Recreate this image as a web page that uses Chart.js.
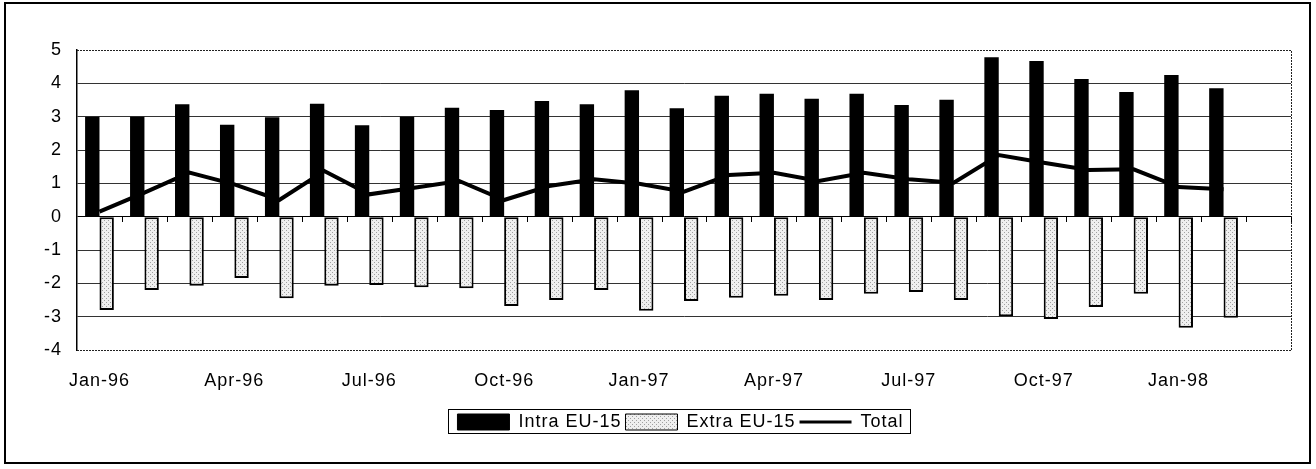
<!DOCTYPE html>
<html><head><meta charset="utf-8">
<script src="https://cdn.jsdelivr.net/npm/chart.js@4/dist/chart.umd.min.js"></script>
<style>html,body{margin:0;padding:0;background:#fff}#wrap{width:1316px;height:469px;position:relative}</style>
</head><body><div id="wrap"><canvas id="c"></canvas></div>
<script>
const months = ['Jan-96','Feb-96','Mar-96','Apr-96','May-96','Jun-96','Jul-96','Aug-96','Sep-96','Oct-96','Nov-96','Dec-96',
  'Jan-97','Feb-97','Mar-97','Apr-97','May-97','Jun-97','Jul-97','Aug-97','Sep-97','Oct-97','Nov-97','Dec-97',
  'Jan-98','Feb-98','Mar-98'];
const intraEU15 = [3.0,3.0,3.37,2.76,2.98,3.39,2.74,3.0,3.27,3.2,3.47,3.37,3.79,3.25,3.63,3.69,3.54,3.69,3.35,3.51,4.78,4.67,4.13,3.74,4.25,3.85,null];
const extraEU15 = [-2.8,-2.2,-2.07,-1.84,-2.45,-2.07,-2.05,-2.12,-2.15,-2.68,-2.5,-2.2,-2.82,-2.53,-2.43,-2.37,-2.5,-2.31,-2.26,-2.5,-2.99,-3.07,-2.71,-2.31,-3.33,-3.03,null];
const total = [0.15,0.72,1.32,0.97,0.5,1.37,0.67,0.87,1.07,0.5,0.92,1.12,0.99,0.75,1.25,1.32,1.07,1.32,1.12,1.02,1.85,1.62,1.4,1.42,0.89,0.82,null];
const yMin = -4, yMax = 5, yStep = 1;
const labelEvery = 3;

function makePattern(){
  const c = document.createElement('canvas'); c.width = 4; c.height = 4;
  const g = c.getContext('2d');
  g.fillStyle = '#efefef'; g.fillRect(0,0,4,4);
  g.fillStyle = '#a0a0a0'; g.fillRect(0,0,1,1); g.fillRect(2,2,1,1);
  return g.createPattern(c, 'repeat');
}
const dotted = makePattern();
const FONT = 'Liberation Sans, Arial, sans-serif';
const LEGEND_SHIFT = 35;

const deco = {
  id: 'deco',
  beforeLayout(chart){ chart.ctx.letterSpacing = '1px'; },
  afterLayout(chart){ const lg = chart.legend; if (lg) { lg.left += LEGEND_SHIFT; lg.right += LEGEND_SHIFT; } },
  beforeDraw(chart){ chart.ctx.letterSpacing = '1px'; },
  afterDatasetsDraw(chart){
    const {ctx, chartArea: a, scales: {x, y}} = chart;
    ctx.save();
    ctx.strokeStyle = '#222'; ctx.lineWidth = 1; ctx.setLineDash([2,1]);
    ctx.beginPath();
    ctx.moveTo(a.left, Math.round(y.getPixelForValue(yMax))+0.5);
    ctx.lineTo(a.right+0.5, Math.round(y.getPixelForValue(yMax))+0.5);
    ctx.lineTo(a.right+0.5, Math.round(y.getPixelForValue(yMin))+0.5);
    ctx.lineTo(a.left, Math.round(y.getPixelForValue(yMin))+0.5);
    ctx.stroke();
    ctx.setLineDash([]);
    const y0 = Math.round(y.getPixelForValue(0));
    const n = months.length;
    ctx.strokeStyle = '#000'; ctx.lineWidth = 1;
    ctx.beginPath();
    for (let i = 1; i <= n; i++) {
      const xp = Math.round(x.left + i * (x.right - x.left) / n) + 0.5;
      ctx.moveTo(xp, y0); ctx.lineTo(xp, y0 + 5);
    }
    ctx.stroke();
    ctx.restore();
  },
  afterDraw(chart){
    const ctx = chart.ctx;
    ctx.save();
    const hb = chart.legend.legendHitBoxes;
    if (hb && hb.length) {
      let l = Infinity, r = -Infinity, t = Infinity, b = -Infinity;
      hb.forEach(h => { l = Math.min(l, h.left); r = Math.max(r, h.left + h.width); t = Math.min(t, h.top); b = Math.max(b, h.top + h.height); });
      ctx.strokeStyle = '#000'; ctx.lineWidth = 1;
      ctx.strokeRect(Math.round(l) - 8.5, Math.round(t) - 3.5, Math.round(r - l) + 16, Math.round(b - t) + 6);
    }
    ctx.strokeStyle = '#000'; ctx.lineWidth = 2;
    ctx.strokeRect(5, 3, 1305, 460);
    ctx.restore();
  }
};

new Chart(document.getElementById('c'), {
  data: {
    labels: months,
    datasets: [
      { type: 'line', label: 'Total', data: total, borderColor: '#000', backgroundColor: '#000', borderWidth: 4,
        pointRadius: 0, tension: 0, order: 0 },
      { type: 'bar', label: 'Intra EU-15', data: intraEU15, backgroundColor: '#000', borderWidth: 0, order: 1 },
      { type: 'bar', label: 'Extra EU-15', data: extraEU15, backgroundColor: dotted, borderColor: '#000', borderWidth: 2, borderSkipped: false, order: 1 }
    ]
  },
  options: {
    responsive: true, maintainAspectRatio: false, animation: false,
    layout: { padding: { top: 50, right: 25, left: 0, bottom: 28 } },
    datasets: { bar: { barPercentage: 1.0, categoryPercentage: 0.64, grouped: true } },
    plugins: {
      tooltip: { enabled: false },
      legend: {
        position: 'bottom',
        labels: {
          color: '#000', font: { family: FONT, size: 18 }, padding: 4,
          usePointStyle: true, pointStyleWidth: 52, boxHeight: 16,
          sort: (a, b) => ['Intra EU-15','Extra EU-15','Total'].indexOf(a.text) - ['Intra EU-15','Extra EU-15','Total'].indexOf(b.text),
          generateLabels(chart) {
            const items = Chart.defaults.plugins.legend.labels.generateLabels(chart);
            items.forEach(it => {
              if (it.text === 'Total') { it.pointStyle = 'line'; it.strokeStyle = '#000'; it.lineWidth = 3; }
              else if (it.text === 'Intra EU-15') { it.pointStyle = 'rect'; it.fillStyle = '#000'; it.strokeStyle = '#000'; it.lineWidth = 1; }
              else { it.pointStyle = 'rect'; it.fillStyle = dotted; it.strokeStyle = '#000'; it.lineWidth = 1; }
            });
            return items;
          }
        }
      }
    },
    scales: {
      x: {
        offset: true,
        grid: { display: false, drawTicks: false },
        border: { display: false },
        afterFit(s) { s.height = 59; },
        ticks: { autoSkip: false, maxRotation: 0, padding: 20, color: '#000', font: { family: FONT, size: 18 },
          callback(v, i) { return i % labelEvery === 0 ? months[i] : ''; } }
      },
      y: {
        min: yMin, max: yMax,
        afterFit(s) { s.width = 77; },
        grid: { drawTicks: false, lineWidth: 1, color: c => c.tick.value === 0 ? '#000' : (c.tick.value === yMax || c.tick.value === yMin ? 'rgba(0,0,0,0)' : '#333') },
        border: { display: true, color: '#000', width: 1.5 },
        ticks: { stepSize: yStep, padding: 15, color: '#000', font: { family: FONT, size: 18 } }
      }
    }
  },
  plugins: [deco]
});
</script></body></html>
